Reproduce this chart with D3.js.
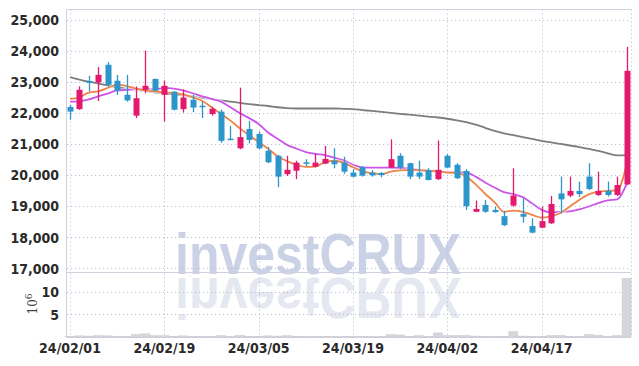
<!DOCTYPE html>
<html>
<head>
<meta charset="utf-8">
<script src="https://cdn.jsdelivr.net/npm/d3@7/dist/d3.min.js"></script>
<style>
  html, body { margin: 0; padding: 0; background: #fff; }
  svg { display: block; }
  .lbl { font-family: "Liberation Sans Narrow", "DejaVu Sans Condensed", sans-serif; font-weight: bold; fill: #2a2a2a; }
</style>
</head>
<body>
<svg id="chart" width="639" height="366"></svg>
<script>
// trading days (yy/mm/dd)
const dates = [
  "24/02/01","24/02/02","24/02/05","24/02/06","24/02/07","24/02/08","24/02/13","24/02/14","24/02/15","24/02/16",
  "24/02/19","24/02/20","24/02/21","24/02/22","24/02/23","24/02/26","24/02/27","24/02/28","24/02/29","24/03/04",
  "24/03/05","24/03/06","24/03/07","24/03/08","24/03/11","24/03/12","24/03/13","24/03/14","24/03/15","24/03/18",
  "24/03/19","24/03/20","24/03/21","24/03/22","24/03/25","24/03/26","24/03/27","24/03/28","24/03/29","24/04/01",
  "24/04/02","24/04/03","24/04/04","24/04/05","24/04/08","24/04/09","24/04/11","24/04/12","24/04/15","24/04/16",
  "24/04/17","24/04/18","24/04/19","24/04/22","24/04/23","24/04/24","24/04/25","24/04/26","24/04/29","24/04/30"
];

const open = [
  22190,22120,23020,22975,23545,23030,22580,21910,22740,23090,
  22580,22680,22120,22420,22230,21960,22040,21170,20860,21480,
  21320,20780,20620,20030,20140,20410,20270,20370,20460,20400,
  20080,20250,20080,20070,20240,20620,20380,20080,20160,19870,
  20620,20330,20130,18820,19040,18880,18680,19020,18750,18360,
  18310,18450,19410,19340,19490,19950,19360,19490,19360,19700
];
const high = [
  22260,22850,23190,23470,23630,23220,23220,22850,24000,23100,
  23040,22700,22750,22580,22360,22200,22100,21580,22810,21740,
  21400,20900,20650,20620,20460,20510,20680,20940,20860,20590,
  20190,20290,20160,20090,21150,20700,20400,20460,20220,21110,
  20680,20380,20190,19180,19200,18980,18850,20220,19250,18610,
  18980,19330,19950,19950,19790,20380,20110,19790,19950,24120
];
const low = [
  21780,22100,22690,22380,22850,22580,22360,21830,22630,22700,
  21720,22080,22010,22020,21830,21910,21040,21120,20830,21020,
  20830,20380,19610,19970,19870,20290,20250,20350,20220,20040,
  19930,19950,19950,19930,20220,20190,19870,19870,19830,19840,
  20220,19870,18880,18810,18790,18790,18360,18980,18470,18130,
  18290,18430,18770,19290,19300,19520,19330,19310,19330,19680
];
const close = [
  22040,22740,22960,23220,22900,22720,22400,22470,22870,22710,
  22870,22100,22490,22170,22200,22130,21100,21140,21220,21130,
  20860,20410,19950,20170,20400,20390,20400,20520,20350,20110,
  19950,19980,19990,20000,20510,20240,19950,19950,19840,20170,
  20240,19900,19000,18910,18820,18810,18390,19340,18660,18150,
  18520,19070,19220,19490,19390,19550,19490,19360,19680,23350
];

// moving averages
const ma5 = [
  22450,22500,22650,22690,22800,22910,22860,22780,22720,22690,
  22660,22630,22590,22500,22390,22180,21970,21750,21500,21280,
  21060,20850,20600,20450,20330,20260,20270,20410,20460,20400,
  20250,20120,20060,20030,20110,20150,20165,20160,20140,20120,
  20080,20070,19950,19700,19400,19130,18820,18860,18820,18720,
  18630,18680,18780,18990,19210,19380,19470,19490,19510,20330
];
const ma20 = [
  22360,22370,22430,22530,22620,22720,22740,22760,22760,22750,
  22800,22780,22720,22630,22530,22450,22360,22180,21990,21830,
  21640,21370,21170,20970,20850,20740,20680,20640,20560,20470,
  20330,20250,20240,20240,20240,20230,20200,20170,20130,20110,
  20100,20090,20080,19950,19760,19600,19450,19390,19290,19090,
  18880,18800,18820,18830,18900,18990,19100,19190,19220,19710
];
const ma120 = [
  23150,23070,23000,22940,22880,22820,22780,22740,22700,22660,
  22620,22590,22560,22520,22480,22440,22400,22360,22320,22280,
  22250,22220,22180,22150,22140,22140,22140,22140,22140,22130,
  22120,22090,22060,22030,22000,21970,21940,21910,21880,21850,
  21810,21760,21700,21620,21520,21420,21340,21280,21220,21160,
  21100,21050,21000,20950,20900,20840,20780,20700,20630,20640
];

// volume, millions of shares
const volume = [
  0.12,0.25,0.2,0.3,0.25,0.1,0.15,0.55,0.7,0.3,
  0.3,0.15,0.25,0.1,0.08,0.1,0.3,0.1,0.35,0.12,
  0.12,0.25,0.2,0.3,0.15,0.08,0.1,0.12,0.1,0.1,
  0.12,0.1,0.08,0.1,0.5,0.45,0.15,0.3,0.1,0.9,
  0.3,0.3,0.35,0.2,0.15,0.1,0.15,1.2,0.2,0.15,
  0.15,0.3,0.35,0.15,0.1,0.5,0.4,0.15,0.3,13.0
];

const priceTicks = [17000, 18000, 19000, 20000, 21000, 22000, 23000, 24000, 25000];
const volTicks = [5, 10];
const dateTicks = [0, 10, 20, 30, 40, 50];

// layout
const L = 67, R = 631, T = 9.5, mainB = 272, volB = 337;
const upColor = "#e4196d", downColor = "#2c95c9";

const svg = d3.select("#chart");
const idx = d3.range(dates.length);

const x = d3.scaleLinear().domain([-0.32, 59.47]).range([L, R]);
const y = d3.scaleLinear().domain([17000, 25000]).range([268.4, 19.5]);
const yVol = d3.scaleLinear().domain([0, 14.4]).range([volB, mainB]);

// watermark + reflection
const wm = svg.append("g").attr("pointer-events", "none");
wm.append("text")
  .attr("x", 175).attr("y", 274)
  .attr("font-family", "Liberation Sans, Arial, sans-serif")
  .attr("font-weight", "bold").attr("font-size", 57)
  .attr("textLength", 286).attr("lengthAdjust", "spacingAndGlyphs")
  .attr("fill", "#c3cbe1").attr("opacity", 0.85)
  .text("investCRUX");
wm.append("text")
  .attr("transform", "translate(0,552) scale(1,-1)")
  .attr("x", 175).attr("y", 274)
  .attr("font-family", "Liberation Sans, Arial, sans-serif")
  .attr("font-weight", "bold").attr("font-size", 57)
  .attr("textLength", 286).attr("lengthAdjust", "spacingAndGlyphs")
  .attr("fill", "#d5dae8").attr("opacity", 0.6)
  .text("investCRUX");

// grid
const grid = svg.append("g").attr("stroke", "#bcc0d4").attr("stroke-width", 1).attr("stroke-dasharray", "1.2,2.8");
grid.selectAll("line.h").data(priceTicks).join("line")
  .attr("x1", L).attr("x2", R)
  .attr("y1", d => Math.round(y(d)) + 0.5).attr("y2", d => Math.round(y(d)) + 0.5);
grid.selectAll("line.v").data(volTicks).join("line")
  .attr("x1", L).attr("x2", R)
  .attr("y1", d => Math.round(yVol(d)) + 0.5).attr("y2", d => Math.round(yVol(d)) + 0.5);
grid.selectAll("line.d").data(dateTicks).join("line")
  .attr("x1", d => Math.round(x(d)) + 0.5).attr("x2", d => Math.round(x(d)) + 0.5)
  .attr("y1", T).attr("y2", volB);
grid.append("line").attr("x1", R + 0.5).attr("x2", R + 0.5).attr("y1", T).attr("y2", volB);

// frame
const frame = svg.append("g").attr("stroke", "#cfd1dc").attr("stroke-width", 1);
frame.append("line").attr("x1", L).attr("x2", R).attr("y1", T).attr("y2", T);
frame.append("line").attr("x1", L - 0.5).attr("x2", L - 0.5).attr("y1", T).attr("y2", volB);
frame.append("line").attr("x1", L).attr("x2", R).attr("y1", mainB + 0.5).attr("y2", mainB + 0.5);
frame.append("line").attr("x1", L).attr("x2", R).attr("y1", volB + 0.5).attr("y2", volB + 0.5);

// volume bars
svg.append("g").selectAll("rect").data(idx).join("rect")
  .attr("x", i => x(i) - 4.5)
  .attr("width", 9)
  .attr("y", i => yVol(volume[i]))
  .attr("height", i => volB - yVol(volume[i]))
  .attr("fill", "#d6d6dc")
  .attr("stroke", "#c8c8d0").attr("stroke-width", 0.5);

// moving average lines
function maLine(vals, color) {
  const line = d3.line().x(i => x(i)).y(i => y(vals[i])).curve(d3.curveMonotoneX);
  svg.append("path").datum(idx).attr("d", line)
    .attr("fill", "none").attr("stroke", "#fff").attr("stroke-opacity", 0.7).attr("stroke-width", 3.5);
  svg.append("path").datum(idx).attr("d", line)
    .attr("fill", "none").attr("stroke", color).attr("stroke-width", 1.8);
}
maLine(ma120, "#7d7d7d");
maLine(ma20, "#cb55e8");
maLine(ma5, "#ef8349");

// candles
const candles = svg.append("g").selectAll("g").data(idx).join("g")
  .attr("fill", i => close[i] >= open[i] ? upColor : downColor)
  .attr("stroke", i => close[i] >= open[i] ? upColor : downColor);
candles.append("line")
  .attr("x1", i => Math.round(x(i)) + 0.5).attr("x2", i => Math.round(x(i)) + 0.5)
  .attr("y1", i => y(high[i])).attr("y2", i => y(low[i]))
  .attr("stroke-width", 1.3);
candles.append("rect")
  .attr("x", i => Math.round(x(i)) - 2.5)
  .attr("width", 6)
  .attr("y", i => y(Math.max(open[i], close[i])))
  .attr("height", i => Math.max(1.5, Math.abs(y(open[i]) - y(close[i]))))
  .attr("stroke", "none");

// axis labels
svg.append("g").selectAll("text").data(priceTicks).join("text")
  .attr("class", "lbl")
  .attr("x", 59).attr("y", d => y(d)).attr("dy", "0.38em")
  .attr("text-anchor", "end").attr("font-size", 14)
  .text(d => d3.format(",")(d));
svg.append("g").selectAll("text").data(volTicks).join("text")
  .attr("class", "lbl")
  .attr("x", 59).attr("y", d => yVol(d)).attr("dy", "0.38em")
  .attr("text-anchor", "end").attr("font-size", 14)
  .text(d => d);
svg.append("g").selectAll("text").data(dateTicks).join("text")
  .attr("class", "lbl")
  .attr("x", i => x(i)).attr("y", 353)
  .attr("text-anchor", "middle").attr("font-size", 14)
  .text(i => dates[i]);

const unit = svg.append("text")
  .attr("transform", "translate(37,304) rotate(-90)")
  .attr("font-family", "DejaVu Serif, serif").attr("font-size", 12).attr("fill", "#444")
  .attr("text-anchor", "middle");
unit.append("tspan").text("10");
unit.append("tspan").attr("dy", -5).attr("font-size", 9).text("6");
</script>
</body>
</html>
